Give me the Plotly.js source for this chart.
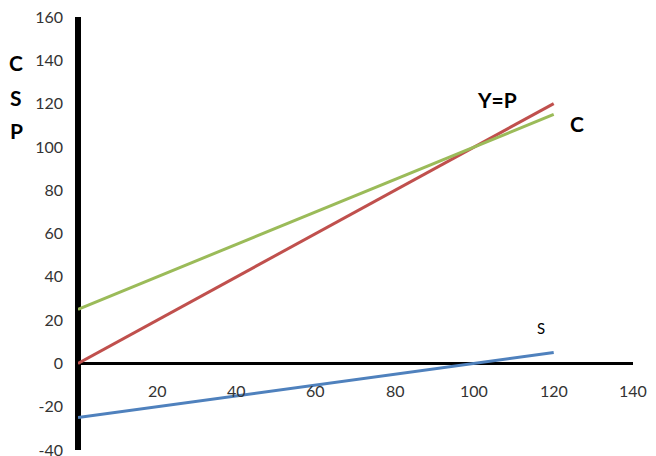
<!DOCTYPE html>
<html>
<head>
<meta charset="utf-8">
<script src="https://cdn.plot.ly/plotly-3.0.1.min.js"></script>
<style>html,body{margin:0;padding:0;background:#fff;}#chart{width:656px;height:456px;}</style>
</head>
<body>
<div id="chart"></div>
<script>
const incomeY = [0, 120];
const planned = [0, 120];     // Y=P
const consumption = [25, 115]; // C
const saving = [-25, 5];       // S
const xTicks = [20, 40, 60, 80, 100, 120, 140];
const yTicks = [-40, -20, 0, 20, 40, 60, 80, 100, 120, 140, 160];

const FONT = 'Lato, "Open Sans", sans-serif';
const traces = [
  {x: incomeY, y: planned, mode: 'lines', line: {color: '#C0504D', width: 3}, name: 'Y=P'},
  {x: incomeY, y: consumption, mode: 'lines', line: {color: '#9BBB59', width: 3}, name: 'C'},
  {x: incomeY, y: saving, mode: 'lines', line: {color: '#4F81BD', width: 3}, name: 'S'}
];

const annotations = xTicks.map(t => ({
  x: t, y: 0, xref: 'x', yref: 'y', text: String(t), showarrow: false,
  yshift: -27, font: {family: FONT, size: 16, color: '#333'}
}));
const bold = {family: FONT, size: 21, color: '#000', weight: 'bold'};
const side = {xref: 'paper', yref: 'paper', showarrow: false, font: bold, xanchor: 'center', yanchor: 'middle'};
annotations.push(
  Object.assign({x: -0.1117, y: 0.896, text: '<b>C</b>'}, side),
  Object.assign({x: -0.1117, y: 0.813, text: '<b>S</b>'}, side),
  Object.assign({x: -0.1117, y: 0.739, text: '<b>P</b>'}, side),
  {x: 105.7, y: 122, text: '<b>Y=P</b>', showarrow: false, font: bold},
  {x: 125.9, y: 111, text: '<b>C</b>', showarrow: false, font: bold},
  {x: 116.8, y: 16.5, text: 'S', showarrow: false, font: {family: FONT, size: 15, color: '#000'}},
  {x: 145.6, y: 5.4, text: 'Y', showarrow: false, font: {family: FONT, size: 15, color: '#000'}}
);

const layout = {
  width: 656, height: 456,
  margin: {l: 78, r: 23, t: 17, b: 6},
  paper_bgcolor: '#fff', plot_bgcolor: '#fff',
  showlegend: false,
  xaxis: {range: [0, 140], showgrid: false, showticklabels: false, ticks: '',
          zeroline: true, zerolinecolor: '#000', zerolinewidth: 6, showline: false},
  yaxis: {range: [-40, 160], showgrid: false, tickvals: yTicks, ticktext: yTicks.map(String),
          ticks: '', ticklabelstandoff: 14, ticklabeloverflow: 'allow',
          tickfont: {family: FONT, size: 16, color: '#333'},
          zeroline: true, zerolinecolor: '#000', zerolinewidth: 3, showline: false},
  annotations: annotations
};
Plotly.newPlot('chart', traces, layout, {displayModeBar: false, staticPlot: true});
</script>
</body>
</html>
